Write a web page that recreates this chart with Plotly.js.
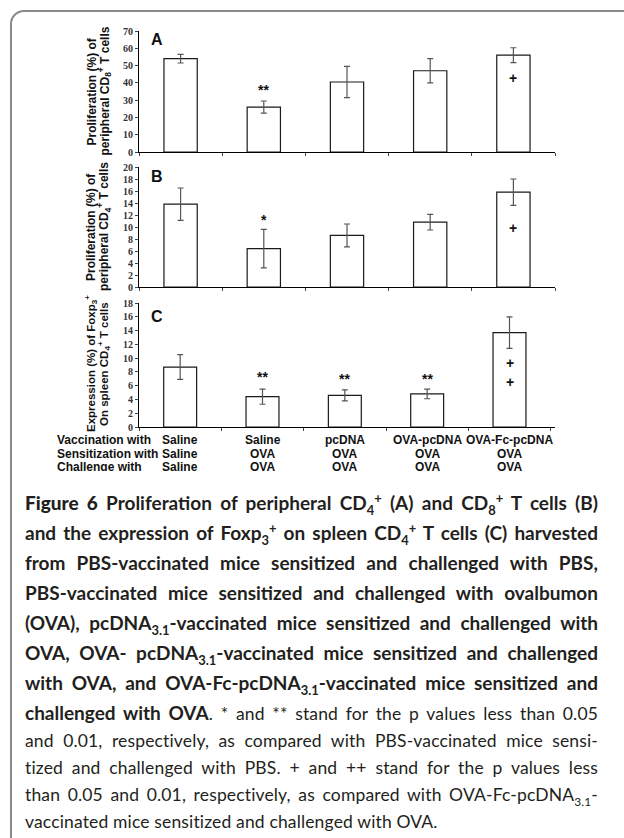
<!DOCTYPE html>
<html>
<head>
<meta charset="utf-8">
<script src="https://cdn.plot.ly/plotly-3.0.1.min.js"></script>
<style>
  html, body { margin:0; padding:0; width:624px; height:838px; overflow:hidden; background:#fff; }
  #frame { position:absolute; left:10px; top:10px; width:700px; height:900px; border:2px solid #8a8a8a; border-radius:14px; box-sizing:border-box; }
  #wrap { position:absolute; left:0; top:0; width:624px; height:471px; overflow:hidden; }
  #plot { width:624px; height:480px; }
  #caption { position:absolute; left:25px; top:488px; width:573px; color:#231f20; font-family:"Lato", "Liberation Sans", sans-serif; }
  .ln { white-space:nowrap; text-align:justify; text-align-last:justify; }
  .b { font-weight:700; font-size:19px; height:30px; line-height:30px; }
  .n { font-weight:400; font-size:17.5px; letter-spacing:0.15px; height:27px; line-height:27px; }
  .last { text-align-last:left; }
  sub, sup { font-size:0.68em; line-height:0; }
</style>
</head>
<body>
<div id="frame"></div>
<div id="wrap"><div id="plot"></div></div>
<div id="caption">
  <div class="ln b"><span style="font-weight:900">Figure 6</span> Proliferation of peripheral CD<sub>4</sub><sup>+</sup> (A) and CD<sub>8</sub><sup>+</sup> T cells (B)</div>
  <div class="ln b">and the expression of Foxp<sub>3</sub><sup>+</sup> on spleen CD<sub>4</sub><sup>+</sup> T cells (C) harvested</div>
  <div class="ln b">from PBS-vaccinated mice sensitized and challenged with PBS,</div>
  <div class="ln b">PBS-vaccinated mice sensitized and challenged with ovalbumon</div>
  <div class="ln b">(OVA), pcDNA<sub>3.1</sub>-vaccinated mice sensitized and challenged with</div>
  <div class="ln b">OVA, OVA- pcDNA<sub>3.1</sub>-vaccinated mice sensitized and challenged</div>
  <div class="ln b">with OVA, and OVA-Fc-pcDNA<sub>3.1</sub>-vaccinated mice sensitized and</div>
  <div class="ln n" style="height:29px;line-height:29px"><b style="font-size:19px;letter-spacing:0">challenged with OVA</b>. * and ** stand for the p values less than 0.05</div>
  <div class="ln n">and 0.01, respectively, as compared with PBS-vaccinated mice sensi-</div>
  <div class="ln n">tized and challenged with PBS. + and ++ stand for the p values less</div>
  <div class="ln n">than 0.05 and 0.01, respectively, as compared with OVA-Fc-pcDNA<sub>3.1</sub>-</div>
  <div class="ln n last">vaccinated mice sensitized and challenged with OVA.</div>
</div>
<script>
// ---- data ----
const vaccination   = ['Saline', 'Saline', 'pcDNA', 'OVA-pcDNA', 'OVA-Fc-pcDNA'];
const sensitization = ['Saline', 'OVA', 'OVA', 'OVA', 'OVA'];
const challenge     = ['Saline', 'OVA', 'OVA', 'OVA', 'OVA'];
const rowLabels     = ['Vaccination with', 'Sensitization with', 'Challenge with'];

const cd8Mean  = [54, 26, 40.5, 47, 56];
const cd8Err   = [2.5, 3.5, 9, 7, 4.3];
const cd4Mean  = [13.8, 6.4, 8.6, 10.8, 15.8];
const cd4Err   = [2.7, 3.2, 1.9, 1.3, 2.2];
const foxpMean = [8.7, 4.4, 4.6, 4.8, 13.7];
const foxpErr  = [1.8, 1.1, 0.8, 0.7, 2.3];

// significance marks: [group index, text, value]
const cd8Marks  = [[1, '**', 36], [4, '+', 42.7]];
const cd4Marks  = [[1, '*', 11.2], [4, '+', 9.8]];
const foxpMarks = [[1, '**', 7.2], [2, '**', 7.0], [3, '**', 7.0], [4, '+', 9.3], [4, '+', 6.5]];

const groups = vaccination.map((v, i) => v + ' / ' + sensitization[i] + ' / ' + challenge[i]);

// ---- layout helpers (pixel -> paper) ----
const L = 139, R = 555, T = 31, B = 427;
const W = R - L, H = B - T;
const px = p => (p - L) / W;
const py = p => (B - p) / H;

function barTrace(y, err, xa, ya) {
  return {
    type: 'bar', x: groups, y: y, xaxis: xa, yaxis: ya, width: 0.4,
    marker: { color: '#ffffff', line: { color: '#1a1a1a', width: 1.2 } },
    error_y: { type: 'data', array: err, visible: true, color: '#555555', thickness: 1.2, width: 3 },
    showlegend: false, hoverinfo: 'none'
  };
}

const data = [
  barTrace(cd8Mean, cd8Err, 'x', 'y'),
  barTrace(cd4Mean, cd4Err, 'x2', 'y2'),
  barTrace(foxpMean, foxpErr, 'x3', 'y3')
];

const tickFont = { family: 'Liberation Serif, Times New Roman, serif', size: 10, color: '#333', weight: 'bold' };
function xax(anchor) {
  return { anchor: anchor, type: 'category', categoryorder: 'array', categoryarray: groups,
    showticklabels: false, tickson: 'boundaries', ticks: 'outside', ticklen: 3, tickcolor: '#444',
    showline: true, linecolor: '#000', linewidth: 1, showgrid: false, zeroline: false, fixedrange: true };
}
function yax(anchor, domain, range, dtick) {
  return { anchor: anchor, domain: domain, range: range, dtick: dtick, tick0: 0,
    ticks: 'outside', ticklen: 3, tickcolor: '#444', tickfont: tickFont,
    showline: true, linecolor: '#000', linewidth: 1, showgrid: false, zeroline: false, fixedrange: true };
}

const ann = [];
function yTitle(l1, l2, cy, size) {
  const f = { family: 'Liberation Sans, Arial, sans-serif', size: size, color: '#111', weight: 'bold' };
  ann.push({ xref: 'paper', yref: 'paper', x: px(91), y: py(cy), text: l1, textangle: -90,
    showarrow: false, xanchor: 'center', yanchor: 'middle', font: f });
  ann.push({ xref: 'paper', yref: 'paper', x: px(104), y: py(cy), text: l2, textangle: -90,
    showarrow: false, xanchor: 'center', yanchor: 'middle', font: f });
}
yTitle('Proliferation (%) of', 'peripheral CD<sub>8</sub><sup>+</sup> T cells', 91.5, 12);
yTitle('Proliferation (%) of', 'peripheral CD<sub>4</sub><sup>+</sup> T cells', 227, 12);
yTitle('Expression (%) of Foxp<sub>3</sub><sup>+</sup>', 'On spleen CD<sub>4</sub><sup>+</sup> T cells', 364, 11.5);

const letterFont = { family: 'Liberation Sans, Arial, sans-serif', size: 16, color: '#111', weight: 'bold' };
ann.push({ xref: 'paper', yref: 'y',  x: px(149), y: 65.3, text: 'A', showarrow: false, xanchor: 'left', font: letterFont });
ann.push({ xref: 'paper', yref: 'y2', x: px(149), y: 18.5, text: 'B', showarrow: false, xanchor: 'left', font: letterFont });
ann.push({ xref: 'paper', yref: 'y3', x: px(149), y: 16, text: 'C', showarrow: false, xanchor: 'left', font: letterFont });

const markFont = { family: 'Liberation Sans, Arial, sans-serif', size: 14, color: '#111', weight: 'bold' };
[[cd8Marks, 'x', 'y'], [cd4Marks, 'x2', 'y2'], [foxpMarks, 'x3', 'y3']].forEach(([marks, xa, ya]) => {
  marks.forEach(([g, t, v]) => ann.push({ xref: xa, yref: ya, x: groups[g], y: v, text: t,
    showarrow: false, xanchor: 'center', yanchor: 'middle', font: markFont }));
});

const tableFont = { family: 'Liberation Sans, Arial, sans-serif', size: 12, color: '#111', weight: 'bold' };
const rowY = [440, 454, 467];
const rows = [vaccination, sensitization, challenge];
rowLabels.forEach((lab, r) => {
  ann.push({ xref: 'paper', yref: 'paper', x: px(55), y: py(rowY[r]), text: lab, showarrow: false,
    xanchor: 'left', yanchor: 'middle', font: tableFont });
  rows[r].forEach((t, i) => ann.push({ xref: 'x3', yref: 'paper', x: groups[i], y: py(rowY[r]), text: t,
    showarrow: false, xanchor: 'center', yanchor: 'middle', font: tableFont }));
});

const layout = {
  width: 624, height: 480,
  margin: { l: L, r: 624 - R, t: T, b: 480 - B },
  paper_bgcolor: 'rgba(0,0,0,0)', plot_bgcolor: 'rgba(0,0,0,0)',
  bargap: 0.6,
  xaxis: xax('y'), xaxis2: xax('y2'), xaxis3: xax('y3'),
  yaxis:  yax('x',  [py(152), 1], [0, 70], 10),
  yaxis2: yax('x2', [py(287), py(167)], [0, 20], 2),
  yaxis3: yax('x3', [0, py(303)], [0, 18], 2),
  annotations: ann,
  showlegend: false
};

Plotly.newPlot('plot', data, layout, { staticPlot: true, displayModeBar: false });
</script>
</body>
</html>
